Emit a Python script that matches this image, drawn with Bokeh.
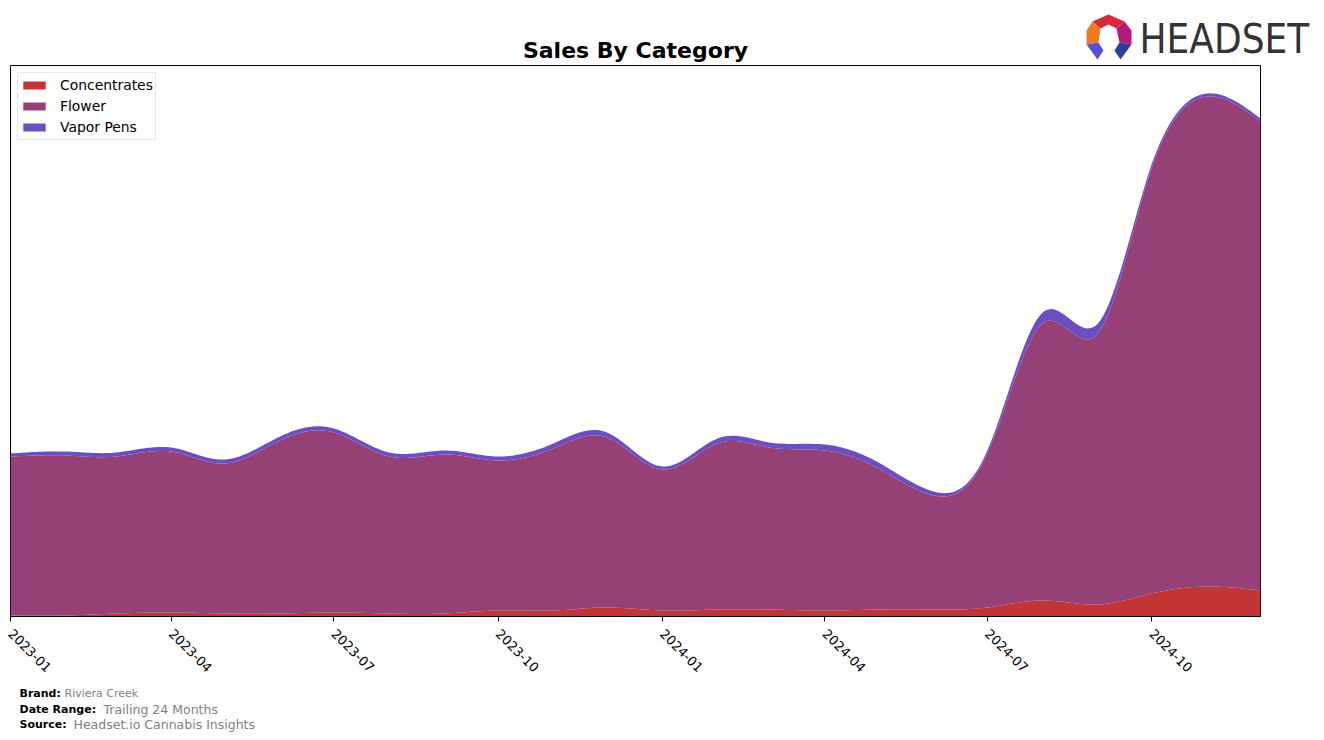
import math
from datetime import datetime
import numpy as np
from bokeh.plotting import figure
from bokeh.layouts import column
from bokeh.models import (Range1d, FixedTicker, DatetimeTickFormatter,
                          Legend, LegendItem)
from bokeh.core.properties import value
from bokeh.embed import file_html
from bokeh.resources import INLINE

# ---------------- data (monthly sales, arbitrary units) ----------------
months = ["2023-01", "2023-02", "2023-03", "2023-04", "2023-05", "2023-06",
          "2023-07", "2023-08", "2023-09", "2023-10", "2023-11", "2023-12",
          "2024-01", "2024-02", "2024-03", "2024-04", "2024-05", "2024-06",
          "2024-07", "2024-08", "2024-09", "2024-10", "2024-11", "2024-12"]
concentrates = [1, 1, 3, 4, 3, 3, 4, 3, 3, 6, 6, 9,
                6, 7, 7, 6, 7, 7, 9, 16, 12, 23, 30, 26]
flower = [159, 160, 157, 161, 150, 173, 180, 157, 159, 150, 162, 170,
          141, 166, 162, 160, 141, 114, 154, 277, 271, 425, 490, 469]
vapor_pens = [3, 4, 4, 4, 4, 4, 4, 4, 4, 4, 5, 5,
              3, 5, 5, 6, 6, 4, 3, 11, 10, 4, 3, 3]
tick_labels = ["2023-01", "2023-04", "2023-07", "2023-10",
               "2024-01", "2024-04", "2024-07", "2024-10"]

series_names = ["Concentrates", "Flower", "Vapor Pens"]
series_colors = ["#c23535", "#954178", "#6b4ec0"]


def to_ms(s):
    return datetime.strptime(s, "%Y-%m").timestamp() * 1000.0


def natural_spline(y, n_sub=20):
    y = np.asarray(y, float)
    n = len(y)
    A = np.zeros((n, n))
    r = np.zeros(n)
    A[0, 0] = 1
    A[-1, -1] = 1
    for i in range(1, n - 1):
        A[i, i - 1] = 1
        A[i, i] = 4
        A[i, i + 1] = 1
        r[i] = 6 * (y[i - 1] - 2 * y[i] + y[i + 1])
    M = np.linalg.solve(A, r)
    xs = np.linspace(0, n - 1, (n - 1) * n_sub + 1)
    idx = np.minimum(np.floor(xs).astype(int), n - 2)
    t = xs - idx
    ys = (M[idx] * (1 - t) ** 3 / 6 + M[idx + 1] * t ** 3 / 6
          + (y[idx] - M[idx] / 6) * (1 - t) + (y[idx + 1] - M[idx + 1] / 6) * t)
    return xs, ys


month_ms = np.array([to_ms(m) for m in months])
cum1 = np.array(concentrates, float)
cum2 = cum1 + np.array(flower, float)
cum3 = cum2 + np.array(vapor_pens, float)

xs_idx, s1 = natural_spline(cum1)
_, s2 = natural_spline(cum2)
_, s3 = natural_spline(cum3)
s1 = np.maximum(s1, 0)
xs_ms = np.interp(xs_idx, np.arange(len(months)), month_ms)
zero = np.zeros_like(s1)

W = 1324
HEADER_H = 65
MAIN_H = 620
FOOTER_H = 740 - HEADER_H - MAIN_H


def no_align(f):
    try:
        f.frame_align = False
    except Exception:
        pass


def blank_fig(h, y_top):
    f = figure(width=W, height=h, x_range=Range1d(0, W),
               y_range=Range1d(y_top + h, y_top), x_axis_location=None,
               y_axis_location=None, output_backend="svg",
               toolbar_location=None, min_border=0)
    f.outline_line_color = None
    f.xgrid.visible = False
    f.ygrid.visible = False
    f.background_fill_color = "white"
    f.border_fill_color = "white"
    no_align(f)
    return f


def txt(f, text, X, Y, size, bold=False, color="black", font="DejaVu Sans",
        align="left"):
    f.text(x=[X], y=[Y], text=[text], text_font=value(font),
           text_font_size=value(size),
           text_font_style="bold" if bold else "normal",
           text_color=color, text_align=align, text_baseline="middle")


# ---------------- header (title + logo) ----------------
head = blank_fig(HEADER_H, 0)
txt(head, "Sales By Category", 635, 50, "22px", bold=True, align="center")
txt(head, "HEADSET", 1139, 38, "40px", color="#333333",
    font="DejaVu Sans Condensed")
icon_xs = [[1092, 1108, 1124, 1116, 1108, 1100],
           [1092, 1100, 1098, 1086, 1086],
           [1124, 1131, 1131, 1119, 1116],
           [1086, 1098, 1103, 1097],
           [1131, 1119, 1114, 1120]]
icon_ys = [[21, 14, 21, 28, 24, 28],
           [21, 28, 42, 44, 30],
           [21, 30, 44, 42, 28],
           [44, 42, 50, 59],
           [44, 42, 50, 59]]
icon_cols = ["#d42a3c", "#f07a22", "#b5197a", "#5a4fd0", "#2f3b9e"]
head.patches(xs=icon_xs, ys=icon_ys, fill_color=icon_cols, line_alpha=0)

# ---------------- main chart ----------------
p = figure(width=W, height=MAIN_H, x_axis_type="datetime",
           y_axis_location=None, output_backend="svg", toolbar_location=None,
           title=None, x_range=Range1d(month_ms[0], month_ms[-1]),
           y_range=Range1d(0, 551), min_border_left=10, min_border_right=64,
           min_border_top=0, min_border_bottom=MAIN_H - 551)
no_align(p)
p.background_fill_color = "white"
p.border_fill_color = "white"
p.outline_line_color = "black"
p.outline_line_width = 1
p.outline_line_alpha = 1
p.xgrid.visible = False
p.ygrid.visible = False

layers = [(zero, s1), (s1, s2), (s2, s3)]
renderers = []
for (lo, hi), col in zip(layers, series_colors):
    r = p.varea(x=xs_ms, y1=lo, y2=hi, fill_color=col, fill_alpha=1)
    renderers.append(r)

legend = Legend(items=[LegendItem(label=n, renderers=[r])
                       for n, r in zip(series_names, renderers)],
                location="top_left")
legend.label_text_font = "DejaVu Sans"
legend.label_text_font_size = "13.9px"
legend.label_text_color = "black"
legend.glyph_width = 28
legend.glyph_height = 10
legend.label_height = 20
legend.spacing = 1
legend.padding = 2
legend.margin = 7
legend.label_standoff = 12
legend.border_line_color = "#cccccc"
legend.border_line_width = 1
legend.background_fill_alpha = 1
p.add_layout(legend)

xa = p.xaxis[0]
xa.ticker = FixedTicker(ticks=[to_ms(t) for t in tick_labels])
fmt = "%Y-%m"
xa.formatter = DatetimeTickFormatter(years=fmt, months=fmt, days=fmt, hours=fmt,
                                     minutes=fmt, seconds=fmt, milliseconds=fmt)
xa.major_label_orientation = -math.pi / 4
xa.major_label_standoff = 10
xa.major_label_text_font = "DejaVu Sans"
xa.major_label_text_font_size = "13px"
xa.major_label_text_color = "black"
xa.axis_line_color = "black"
xa.major_tick_out = 5
xa.major_tick_in = 0
xa.minor_tick_out = 0
xa.minor_tick_in = 0
xa.major_tick_line_color = "black"

# ---------------- footer ----------------
foot = blank_fig(FOOTER_H, HEADER_H + MAIN_H)
txt(foot, "Brand:", 19, 693, "11px", bold=True)
txt(foot, "Riviera Creek", 64, 693, "11px", color="#808080")
txt(foot, "Date Range:", 19, 709, "11px", bold=True)
txt(foot, "Trailing 24 Months", 103, 709, "12.5px", color="#808080")
txt(foot, "Source:", 19, 724, "11px", bold=True)
txt(foot, "Headset.io Cannabis Insights", 73, 724, "12.5px", color="#808080")

layout = column(head, p, foot, spacing=0)
open("out.html", "w").write(file_html(layout, INLINE))
